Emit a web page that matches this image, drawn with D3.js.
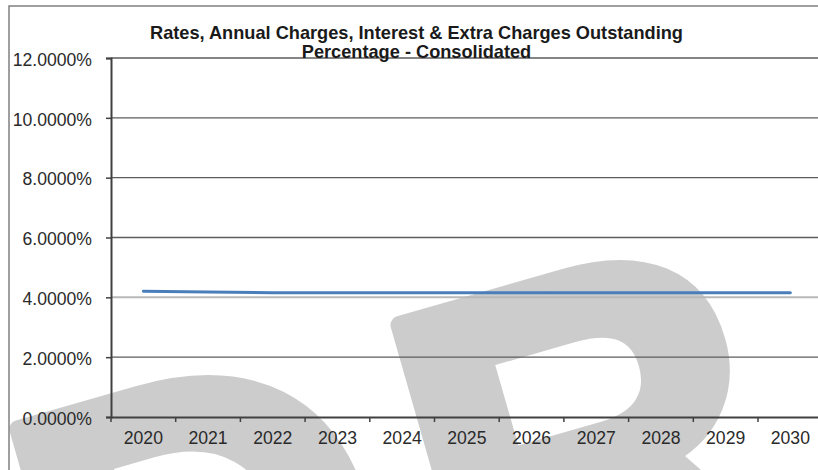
<!DOCTYPE html>
<html>
<head>
<meta charset="utf-8">
<script src="https://cdn.jsdelivr.net/npm/d3@7"></script>
<style>
  body { margin: 0; background: #ffffff; }
  svg { display: block; }
</style>
</head>
<body>
<svg id="chart" width="818" height="470"></svg>
<script>
// Categories and series
const years = ["2020", "2021", "2022", "2023", "2024", "2025", "2026", "2027", "2028", "2029", "2030"];
const outstandingPct = [4.20, 4.18, 4.15, 4.15, 4.15, 4.15, 4.15, 4.15, 4.15, 4.15, 4.15];
const yTickValues = [0, 2, 4, 6, 8, 10, 12];
const titleLines = [
  "Rates, Annual Charges, Interest & Extra Charges Outstanding",
  "Percentage - Consolidated"
];
const watermarkText = "DRAFT";

const svg = d3.select("#chart");
const plot = { left: 111, top: 58, right: 822.7, bottom: 417 };
const FONT = "'Liberation Sans', Arial, sans-serif";

// Background watermark (slanted, heavy grey lettering behind the plot)
svg.append("text")
  .attr("transform", "translate(81,769) rotate(-16)")
  .attr("font-family", FONT)
  .attr("font-weight", "bold")
  .attr("font-size", 500)
  .attr("dx", "0 34 170")
  .attr("dy", "0 5")
  .attr("fill", "#cccccc")
  .attr("stroke", "#cccccc")
  .attr("stroke-width", 18)
  .attr("stroke-linejoin", "round")
  .text(watermarkText);

// Chart area frame
svg.append("rect")
  .attr("x", 9).attr("y", 6)
  .attr("width", 900).attr("height", 600)
  .attr("fill", "none")
  .attr("stroke", "#808080")
  .attr("stroke-width", 1.5);

const x = d3.scaleBand().domain(years).range([plot.left, plot.right]);
const y = d3.scaleLinear().domain([0, 12]).range([plot.bottom, plot.top]);

// Horizontal gridlines
svg.append("g")
  .selectAll("line")
  .data(yTickValues.filter(d => d > 0))
  .join("line")
  .attr("x1", plot.left).attr("x2", plot.right)
  .attr("y1", d => y(d)).attr("y2", d => y(d))
  .attr("stroke", d => d === 4 ? "#b8b8b8" : "#5c5c5c")
  .attr("stroke-width", d => d === 4 ? 2 : 1.4);

// Y axis
const yAxis = svg.append("g")
  .attr("transform", `translate(${plot.left},0)`)
  .call(d3.axisLeft(y)
    .tickValues(yTickValues)
    .tickSize(5)
    .tickPadding(14)
    .tickFormat(d => d.toFixed(4) + "%"));
yAxis.select(".domain").attr("stroke", "#404040").attr("stroke-width", 2);
yAxis.selectAll(".tick line").attr("stroke", "#404040").attr("stroke-width", 1.5);
yAxis.selectAll(".tick text")
  .attr("font-family", FONT)
  .attr("font-size", 17.6)
  .attr("fill", "#2a2a2a")
  .attr("dy", "0.41em");

// X axis: baseline, boundary ticks, centred year labels
const xAxis = svg.append("g")
  .attr("transform", `translate(0,${plot.bottom})`)
  .call(d3.axisBottom(x).tickSize(0).tickPadding(15));
xAxis.select(".domain").attr("stroke", "#404040").attr("stroke-width", 2);
xAxis.selectAll(".tick text")
  .attr("font-family", FONT)
  .attr("font-size", 17.6)
  .attr("fill", "#2a2a2a");
xAxis.append("g")
  .selectAll("line")
  .data(years.map(d => x(d)).concat([plot.right]))
  .join("line")
  .attr("x1", d => d).attr("x2", d => d)
  .attr("y1", 0).attr("y2", 5)
  .attr("stroke", "#404040")
  .attr("stroke-width", 1.5);

// Series line
const line = d3.line()
  .x((d, i) => x(years[i]) + x.bandwidth() / 2)
  .y(d => y(d));
svg.append("path")
  .datum(outstandingPct)
  .attr("d", line)
  .attr("fill", "none")
  .attr("stroke", "#4a7ebb")
  .attr("stroke-width", 3)
  .attr("stroke-linecap", "round");

// Title
const title = svg.append("text")
  .attr("font-family", FONT)
  .attr("font-weight", "bold")
  .attr("font-size", 18.2)
  .attr("fill", "#1a1a1a")
  .attr("text-anchor", "middle");
title.selectAll("tspan")
  .data(titleLines)
  .join("tspan")
  .attr("x", 416.5)
  .attr("y", (d, i) => 39 + i * 18.5)
  .text(d => d);
</script>
</body>
</html>
